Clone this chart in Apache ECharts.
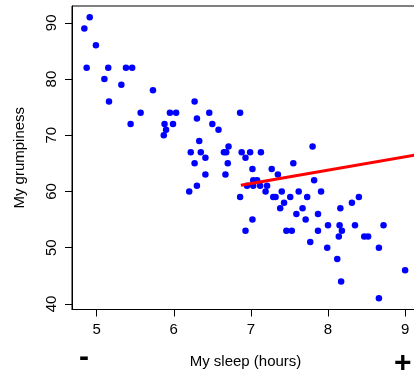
<!DOCTYPE html>
<html>
<head>
<meta charset="utf-8">
<script src="https://cdn.jsdelivr.net/npm/echarts@6/dist/echarts.min.js"></script>
<style>
html,body{margin:0;padding:0;background:#fff;}
#chart{width:414px;height:372px;}
</style>
</head>
<body>
<div id="chart"></div>
<script>
// sleep (hours) for each observation
var sleepHours = [4.91,4.84,4.99,4.87,5.15,5.38,5.46,5.10,5.32,5.73,5.16,6.27,5.57,5.95,6.03,6.46,6.86,6.30,5.44,5.88,
  5.99,6.50,5.90,6.58,5.87,6.33,6.71,7.80,6.22,6.35,6.65,6.68,6.88,6.99,7.13,6.41,6.93,6.27,6.70,7.55,
  7.02,7.27,6.41,6.67,7.35,7.03,7.08,7.82,6.30,6.95,7.03,7.12,7.21,6.20,7.19,7.40,7.62,7.91,6.86,7.29,
  7.32,7.51,7.73,8.40,7.43,8.31,7.38,7.67,8.16,7.59,7.87,7.02,7.71,8.00,8.15,8.35,8.72,6.93,7.46,7.53,
  7.87,8.18,8.14,8.47,8.52,7.77,7.99,8.66,8.12,9.00,8.17,8.66];
// grumpiness for each observation
var grumpiness = [91,89,86,82,82,82,82,80,79,78,76,76,74,74,74,74,74,73,72,72,
  72,72,71,71,70,69,68,68,67,67,67,67,67,67,67,66,66,65,65,65,
  64,64,63,63,63,62,62,62,61,61,61,61,61,60,60,60,60,60,59,59,
  59,59,59,59,58,58,57,57,57,56,56,55,55,54,54,54,54,53,53,53,
  53,53,52,52,52,51,50,50,48,46,44,41];
// red line end points
var lineX = [6.87, 9.18];
var lineY = [61.1, 66.6];
// tick labels
var xTicks = [5,6,7,8,9];
var yTicks = [40,50,60,70,80,90];

var points = sleepHours.map(function(x,i){return [x, grumpiness[i]];});
var linePts = lineX.map(function(x,i){return [x, lineY[i]];});

var font = "'Liberation Sans', Arial, Helvetica, sans-serif";
var chart = echarts.init(document.getElementById('chart'), null, {renderer:'canvas'});
chart.setOption({
  animation:false,
  backgroundColor:'#ffffff',
  grid:{left:72, top:6, width:347, height:303.5, outerBoundsMode:'none', containLabel:false,
    show:true, borderColor:'#000', borderWidth:1, backgroundColor:'transparent'},
  xAxis:{
    type:'value', min:4.68, max:9.18,
    name:'My sleep (hours)', nameLocation:'middle', nameGap:45,
    nameTextStyle:{fontFamily:font, fontSize:15, color:'#000'},
    axisLine:{show:true, lineStyle:{color:'#000', width:1}},
    axisTick:{show:true, length:7, lineStyle:{color:'#000'}, customValues:xTicks},
    axisLabel:{fontFamily:font, fontSize:15, color:'#000', margin:13, customValues:xTicks},
    splitLine:{show:false}
  },
  yAxis:{
    type:'value', min:39, max:93,
    name:'My grumpiness', nameLocation:'middle', nameGap:45, nameRotate:90,
    nameTextStyle:{fontFamily:font, fontSize:15, color:'#000'},
    axisLine:{show:true, lineStyle:{color:'#000', width:1}},
    axisTick:{show:true, length:7, lineStyle:{color:'#000'}, customValues:yTicks},
    axisLabel:{fontFamily:font, fontSize:15, color:'#000', margin:13, rotate:90, customValues:yTicks},
    splitLine:{show:false}
  },
  graphic:[
    {type:'text', left:79, top:343, style:{text:'-', font:'bold 30px '+font, fill:'#000'}},
    {type:'text', left:394, top:349, style:{text:'+', font:'bold 30px '+font, fill:'#000'}}
  ],
  series:[
    {type:'scatter', data:points, symbol:'circle', symbolSize:6.5, itemStyle:{color:'#0000ff', opacity:1}, z:2},
    {type:'line', data:linePts, symbol:'none', lineStyle:{color:'#ff0000', width:3}, z:3}
  ]
});
</script>
</body>
</html>
